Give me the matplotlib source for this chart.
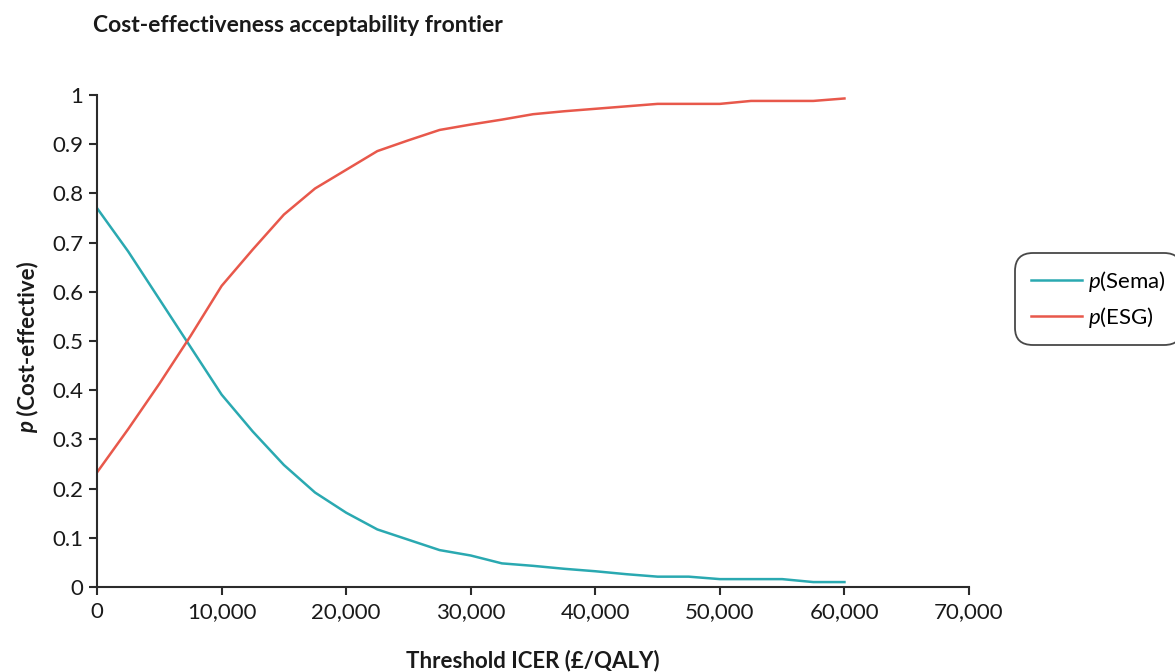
import matplotlib.pyplot as plt
from matplotlib.ticker import FuncFormatter
from matplotlib.transforms import offset_copy

plt.rcParams['font.family'] = ['Lato', 'DejaVu Sans']
plt.rcParams['mathtext.fontset'] = 'custom'
plt.rcParams['mathtext.rm'] = 'Lato'
plt.rcParams['mathtext.it'] = 'Lato:italic'

# threshold ICER values (GBP/QALY)
thresholds = [0, 2500, 5000, 7500, 10000, 12500, 15000, 17500, 20000, 22500,
              25000, 27500, 30000, 32500, 35000, 37500, 40000, 42500, 45000,
              47500, 50000, 52500, 55000, 57500, 60000]

p_sema = [0.770, 0.682, 0.585, 0.488, 0.391, 0.316, 0.248, 0.192, 0.151, 0.117,
          0.096, 0.075, 0.064, 0.048, 0.043, 0.037, 0.032, 0.026, 0.021,
          0.021, 0.016, 0.016, 0.016, 0.010, 0.010]

p_esg = [0.233, 0.321, 0.413, 0.510, 0.612, 0.686, 0.757, 0.810, 0.848, 0.886,
         0.908, 0.929, 0.940, 0.950, 0.961, 0.967, 0.972, 0.977, 0.982,
         0.982, 0.982, 0.988, 0.988, 0.988, 0.993]

teal = '#2aa9b1'
red = '#e8584b'
dark = '#2b2b2b'
fs = 16

fig = plt.figure(figsize=(11.75, 6.72), dpi=100)
ax = fig.add_axes([0.0826, 0.1265, 0.7421, 0.7321])

ax.plot(thresholds, p_sema, color=teal, lw=1.8, label='$\\it{p}$(Sema)')
ax.plot(thresholds, p_esg, color=red, lw=1.8, label='$\\it{p}$(ESG)')

ax.set_xlim(0, 70000)
ax.set_ylim(0, 1)
ax.set_xticks(range(0, 70001, 10000))
ax.set_yticks([i / 10 for i in range(11)])
ax.xaxis.set_major_formatter(FuncFormatter(lambda v, p: f'{int(v):,}'))
ax.yaxis.set_major_formatter(FuncFormatter(lambda v, p: f'{v:g}'))

for s in ['top', 'right']:
    ax.spines[s].set_visible(False)
for s in ['left', 'bottom']:
    ax.spines[s].set_color(dark)
    ax.spines[s].set_linewidth(1.5)
ax.tick_params(axis='both', colors=dark, labelcolor='#1a1a1a', labelsize=fs,
               width=1.5, length=6, direction='out')
ax.tick_params(axis='x', pad=5)
ax.tick_params(axis='y', pad=4)

ax.set_xlabel('Threshold ICER (£/QALY)', fontsize=fs, fontweight='bold',
              color='#1a1a1a', labelpad=20)

# y label: italic bold "p" followed by bold text
ylab = ax.text(-0.08, 0.5, ' (Cost-effective)', transform=ax.transAxes,
               rotation=90, ha='center', va='center', fontsize=fs,
               fontweight='bold', color='#1a1a1a')
fig.canvas.draw()
bb = ylab.get_window_extent()
ax.text(-0.08, 0.5, 'p', rotation=90, ha='center', va='top',
        fontsize=fs, fontweight='bold', style='italic', color='#1a1a1a',
        transform=offset_copy(ax.transAxes, fig=fig, x=0,
                              y=-(bb.height / 2) * 72 / fig.dpi, units='points'))

fig.text(0.079, 0.962, 'Cost-effectiveness acceptability frontier', fontsize=16.5,
         fontweight='bold', color='#1a1a1a', ha='left', va='center')

leg = ax.legend(loc='center left', bbox_to_anchor=(1.058, 0.585), fontsize=fs,
                frameon=True, fancybox=True, handlelength=2.3, handletextpad=0.3,
                borderpad=0.5, labelspacing=0.5, borderaxespad=0)
leg.get_frame().set_edgecolor('#1a1a1a')
leg.get_frame().set_linewidth(1.3)
leg.get_frame().set_boxstyle('round,pad=0.2,rounding_size=0.8')

fig.savefig('out.png', dpi=100)
